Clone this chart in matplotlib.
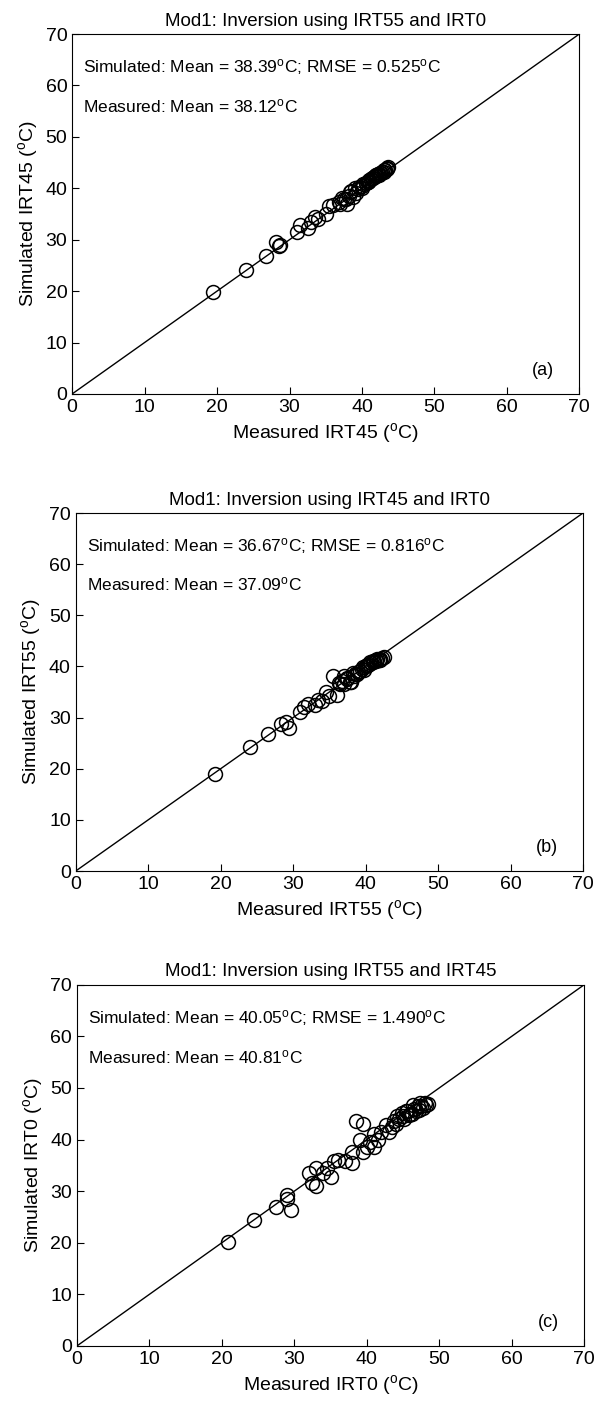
import matplotlib
matplotlib.use("Agg")
import matplotlib.pyplot as plt

plt.rcParams['font.family'] = ['Liberation Sans', 'DejaVu Sans']
plt.rcParams['mathtext.fontset'] = 'custom'
plt.rcParams['mathtext.rm'] = 'Liberation Sans'
plt.rcParams['mathtext.it'] = 'Liberation Sans'

# panel (a): IRT45
meas_a = [19.5, 24.0, 26.8, 28.2, 28.5, 28.7, 31.0, 31.5, 32.5, 33.0, 33.5, 34.0, 35.0, 35.5,
          36.0, 37.0, 37.5, 38.0, 38.2, 38.5, 39.0, 39.5, 40.0, 40.5, 41.0, 41.5, 42.0, 42.5,
          43.0, 43.5, 40.8, 41.2, 41.8, 42.2, 42.8, 43.2, 39.2, 38.8, 37.8, 36.8,
          40.2, 40.6, 41.0, 41.4, 41.6, 42.0, 42.4, 42.6, 43.0, 43.4, 43.6, 41.9, 42.3, 40.9,
          39.6, 40.0, 38.4, 37.2]
sim_a = [19.8, 24.2, 26.9, 29.5, 28.8, 29.0, 31.5, 32.8, 32.3, 33.5, 34.5, 34.0, 35.0, 36.5,
         36.8, 37.0, 38.0, 37.0, 38.5, 39.5, 40.0, 39.8, 40.5, 41.0, 41.5, 42.0, 42.5, 43.0,
         43.5, 44.0, 41.3, 41.8, 42.3, 42.8, 43.2, 43.6, 39.0, 38.3, 38.0, 37.4,
         40.8, 41.0, 41.6, 41.9, 42.2, 42.3, 42.6, 43.0, 43.2, 43.8, 44.2, 42.6, 42.8, 41.2,
         40.2, 40.1, 39.2, 38.2]

# panel (b): IRT55
meas_b = [19.2, 24.0, 26.5, 28.3, 29.0, 29.5, 31.0, 31.5, 32.0, 33.0, 33.5, 34.0, 35.0, 35.5,
          36.0, 36.5, 37.0, 37.5, 37.0, 38.0, 38.5, 39.0, 39.5, 40.0, 40.5, 41.0, 41.5, 42.0,
          42.5, 40.2, 40.8, 41.2, 41.8, 39.8, 38.8, 37.8, 36.8, 34.5,
          39.2, 39.6, 40.0, 40.4, 40.6, 41.0, 41.4, 41.6, 42.0, 42.2, 38.4, 38.2, 37.4, 36.4]
sim_b = [19.0, 24.2, 26.7, 28.8, 29.2, 28.0, 31.0, 32.0, 32.7, 32.5, 33.5, 33.3, 34.2, 38.2,
         34.5, 36.5, 38.2, 37.5, 36.5, 37.0, 38.5, 39.0, 39.5, 40.0, 40.5, 41.0, 41.2, 41.5,
         41.8, 40.3, 40.6, 41.0, 41.3, 39.4, 38.6, 37.0, 37.2, 35.0,
         39.2, 39.8, 40.0, 40.2, 40.8, 40.8, 41.0, 41.4, 41.3, 41.6, 38.2, 38.8, 37.8, 36.8]

# panel (c): IRT0
meas_c = [20.8, 24.5, 27.5, 29.0, 29.0, 29.5, 32.0, 32.5, 33.0, 33.0, 34.0, 34.5, 35.0, 35.5,
          36.0, 37.0, 38.0, 38.0, 38.5, 39.0, 39.5, 39.5, 40.0, 40.5, 41.0, 41.0, 41.5, 42.0,
          43.0, 43.5, 44.0, 44.5, 45.0, 45.5, 46.0, 46.5, 47.0, 47.5, 48.0, 48.5, 45.2, 46.2,
          47.2, 44.2, 45.8, 46.8, 47.8, 48.2, 44.8, 43.8, 46.4, 47.4, 45.4, 42.6]
sim_c = [20.2, 24.5, 27.0, 29.2, 28.5, 26.3, 33.5, 31.5, 34.5, 31.0, 33.5, 34.5, 32.8, 35.8,
         36.0, 35.8, 37.5, 35.5, 43.5, 40.0, 43.0, 37.5, 38.5, 39.5, 41.0, 38.5, 40.0, 41.5,
         41.5, 42.5, 43.0, 44.0, 44.5, 45.5, 45.0, 46.0, 46.5, 46.5, 47.0, 46.8, 44.0, 45.0,
         45.8, 44.5, 44.8, 45.6, 46.2, 46.6, 45.2, 43.6, 46.6, 47.0, 45.6, 42.8]

titles = ["Mod1: Inversion using IRT55 and IRT0",
          "Mod1: Inversion using IRT45 and IRT0",
          "Mod1: Inversion using IRT55 and IRT45"]
names = ["IRT45", "IRT55", "IRT0"]
sim_stats = [("38.39", "0.525"), ("36.67", "0.816"), ("40.05", "1.490")]
meas_means = ["38.12", "37.09", "40.81"]
tags = ["(a)", "(b)", "(c)"]
ticks = [0, 10, 20, 30, 40, 50, 60, 70]

deg = r"$^{\mathrm{o}}$"

fig = plt.figure(figsize=(6.01, 14.11), dpi=100)
rects = [[0.120, 0.7208, 0.844, 0.2551],
         [0.126, 0.3827, 0.844, 0.2537],
         [0.128, 0.0461, 0.844, 0.2560]]
data = [(meas_a, sim_a), (meas_b, sim_b), (meas_c, sim_c)]

for i, rect in enumerate(rects):
    ax = fig.add_axes(rect)
    mx, sy = data[i]
    ax.plot([0, 70], [0, 70], color='black', lw=1.0)
    ax.plot(mx, sy, 'o', mfc='none', mec='black', ms=10, mew=1.1)
    ax.set_xlim(0, 70)
    ax.set_ylim(0, 70)
    ax.set_xticks(ticks)
    ax.set_yticks(ticks)
    ax.tick_params(direction='in', labelsize=14, length=5, top=False, right=False)
    ax.set_title(titles[i], fontsize=13.5)
    ax.set_xlabel("Measured %s (%sC)" % (names[i], deg), fontsize=14)
    ax.set_ylabel("Simulated %s (%sC)" % (names[i], deg), fontsize=14)
    m, r = sim_stats[i]
    ax.text(1.5, 63.5, "Simulated: Mean = %s%sC; RMSE = %s%sC" % (m, deg, r, deg),
            fontsize=12.5, va='center')
    ax.text(1.5, 56, "Measured: Mean = %s%sC" % (meas_means[i], deg),
            fontsize=12.5, va='center')
    ax.text(66.5, 4.5, tags[i], fontsize=13, ha='right', va='center')

fig.savefig("out.png", dpi=100)
